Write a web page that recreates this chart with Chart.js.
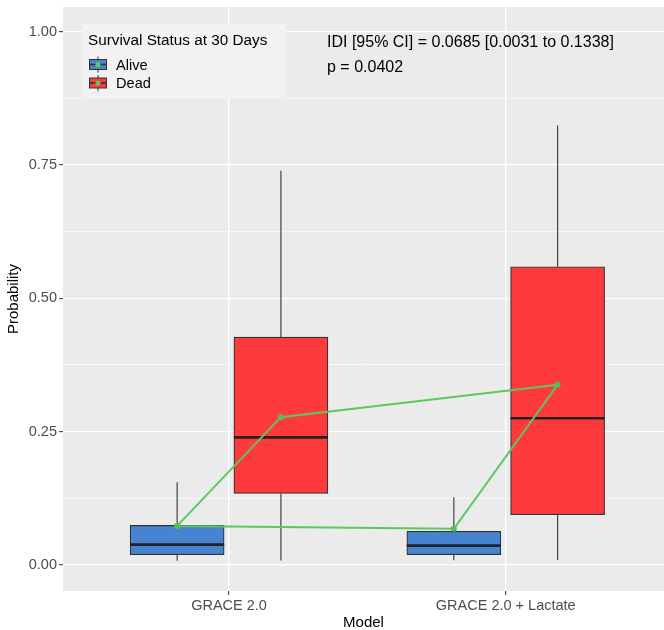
<!DOCTYPE html>
<html>
<head>
<meta charset="utf-8">
<script src="https://cdn.jsdelivr.net/npm/chart.js@4.4.1/dist/chart.umd.min.js"></script>
<style>
  html, body { margin: 0; padding: 0; background: #fff; }
  #wrap { width: 664px; height: 630px; }
</style>
</head>
<body>
<div id="wrap"><canvas id="chart" width="664" height="630"></canvas></div>
<script>
// categories
const models = ['GRACE 2.0', 'GRACE 2.0 + Lactate'];
const groups = ['Alive', 'Dead'];

// box statistics per model
const aliveMin    = [0.0075, 0.0088];
const aliveQ1     = [0.019, 0.019];
const aliveMedian = [0.038, 0.036];
const aliveQ3     = [0.074, 0.063];
const aliveMax    = [0.155, 0.127];
const aliveMean   = [0.073, 0.0675];

const deadMin    = [0.008, 0.009];
const deadQ1     = [0.134, 0.094];
const deadMedian = [0.239, 0.275];
const deadQ3     = [0.427, 0.559];
const deadMax    = [0.739, 0.824];
const deadMean   = [0.277, 0.3375];

// ticks
const yMajorTicks = [0, 0.25, 0.5, 0.75, 1];
const yMinorTicks = [0.125, 0.375, 0.625, 0.875];

const annotationLines = ['IDI [95% CI] = 0.0685 [0.0031 to 0.1338]', 'p = 0.0402'];
const legendTitle = 'Survival Status at 30 Days';

const colors = { Alive: '#4684D2', Dead: '#FF3A3C' };
const DODGE = 0.1875;
const BOX_HALF = 0.17;
const FONT = '"Liberation Sans", Arial, Helvetica, sans-serif';

const stats = {
    Alive: { min: aliveMin, q1: aliveQ1, med: aliveMedian, q3: aliveQ3, max: aliveMax, mean: aliveMean, dx: -DODGE },
    Dead:  { min: deadMin,  q1: deadQ1,  med: deadMedian,  q3: deadQ3,  max: deadMax,  mean: deadMean,  dx: DODGE }
};

// build datasets from the arrays
const boxSets = groups.map(g => ({
    type: 'bar',
    label: g,
    data: models.map((m, i) => ({ x: i + 1 + stats[g].dx, y: [stats[g].q1[i], stats[g].q3[i]] })),
    backgroundColor: colors[g],
    borderColor: '#333333',
    borderWidth: 1.2,
    borderSkipped: false,
    barThickness: 94,
    grouped: false,
    order: 3
}));

const whiskerPts = [];
const medianPts = [];
groups.forEach(g => {
    models.forEach((m, i) => {
        const c = i + 1 + stats[g].dx;
        whiskerPts.push({ x: c, y: stats[g].min[i] }, { x: c, y: stats[g].q1[i] }, { x: c, y: null });
        whiskerPts.push({ x: c, y: stats[g].q3[i] }, { x: c, y: stats[g].max[i] }, { x: c, y: null });
        medianPts.push({ x: c - BOX_HALF, y: stats[g].med[i] }, { x: c + BOX_HALF, y: stats[g].med[i] }, { x: c, y: null });
    });
});

// mean path: alive -> dead in model 1, dead model 1 -> dead model 2, back via alive
const meanPts = [
    { x: 1 - DODGE, y: aliveMean[0] },
    { x: 1 + DODGE, y: deadMean[0] },
    { x: 2 + DODGE, y: deadMean[1] },
    { x: 2 - DODGE, y: aliveMean[1] },
    { x: 1 - DODGE, y: aliveMean[0] }
];

const lineBase = { type: 'line', pointRadius: 0, spanGaps: false, fill: false, tension: 0 };

// panel background, legend box and annotation
const ggPanel = {
    id: 'ggPanel',
    beforeDraw(chart) {
        const { ctx, chartArea: a } = chart;
        ctx.save();
        ctx.fillStyle = '#EBEBEB';
        ctx.fillRect(a.left, a.top, a.right - a.left, a.bottom - a.top);
        ctx.restore();
    },
    afterDraw(chart) {
        const ctx = chart.ctx;
        ctx.save();
        // legend
        ctx.fillStyle = '#F2F2F2';
        ctx.fillRect(82, 24, 204, 75);
        ctx.fillStyle = '#000';
        ctx.textBaseline = 'alphabetic';
        ctx.font = '15.3px ' + FONT;
        ctx.fillText(legendTitle, 88, 45);
        const keyY = [64.5, 83];
        groups.forEach((g, i) => {
            const cy = keyY[i];
            const cx = 98;
            ctx.strokeStyle = '#333';
            ctx.lineWidth = 1;
            ctx.beginPath();
            ctx.moveTo(cx, cy - 8); ctx.lineTo(cx, cy + 8);
            ctx.stroke();
            ctx.fillStyle = colors[g];
            ctx.fillRect(89.5, cy - 5, 17, 10);
            ctx.strokeRect(89.5, cy - 5, 17, 10);
            ctx.lineWidth = 1.6;
            ctx.beginPath();
            ctx.moveTo(89.5, cy); ctx.lineTo(106.5, cy);
            ctx.stroke();
            ctx.fillStyle = '#5BC95B';
            ctx.beginPath();
            ctx.arc(cx, cy, 2.6, 0, Math.PI * 2);
            ctx.fill();
            ctx.fillStyle = '#000';
            ctx.font = '14.6px ' + FONT;
            ctx.textBaseline = 'middle';
            ctx.fillText(g, 116, cy + 1);
            ctx.textBaseline = 'alphabetic';
        });
        // annotation
        ctx.fillStyle = '#000';
        ctx.font = '16px ' + FONT;
        ctx.fillText(annotationLines[0], 327, 47);
        ctx.fillText(annotationLines[1], 327, 72);
        ctx.restore();
    }
};

const tickFont = { family: FONT, size: 14.5 };
const titleFont = { family: FONT, size: 15, lineHeight: 1 };
const isMajor = v => yMajorTicks.includes(v);

new Chart(document.getElementById('chart'), {
    type: 'bar',
    data: {
        datasets: [
            Object.assign({}, lineBase, { label: 'means', data: meanPts, borderColor: '#5BC95B', borderWidth: 2,
                pointRadius: 3, pointBackgroundColor: '#4FC24F', pointBorderWidth: 0, order: 1 }),
            Object.assign({}, lineBase, { label: 'medians', data: medianPts, borderColor: '#222222', borderWidth: 2.6, order: 2 }),
            ...boxSets,
            Object.assign({}, lineBase, { label: 'whiskers', data: whiskerPts, borderColor: '#444444', borderWidth: 1.2, order: 4 })
        ]
    },
    options: {
        responsive: false,
        animation: false,
        devicePixelRatio: 1,
        layout: { autoPadding: false, padding: { top: 7, left: 0, right: 0, bottom: 0 } },
        plugins: { legend: { display: false }, tooltip: { enabled: false } },
        scales: {
            x: {
                type: 'linear',
                min: 0.4,
                max: 2.572,
                offset: false,
                border: { display: false },
                grid: { offset: false, color: '#FFFFFF', lineWidth: 1.3, tickLength: 4, tickColor: '#333333', tickWidth: 1 },
                afterBuildTicks: s => { s.ticks = models.map((m, i) => ({ value: i + 1 })); },
                ticks: { autoSkip: false, maxRotation: 0, font: tickFont, color: '#4D4D4D', padding: 2,
                    callback: v => models[Math.round(v) - 1] },
                title: { display: true, text: 'Model', font: titleFont, color: '#000', padding: { top: 0, bottom: 0 } },
                afterFit: s => { s.height = 39; s.paddingLeft = 0; s.paddingRight = 0; }
            },
            y: {
                type: 'linear',
                min: -0.049,
                max: 1.046,
                border: { display: false },
                grid: {
                    color: '#FFFFFF',
                    lineWidth: c => isMajor(c.tick.value) ? 1.3 : 0.6,
                    tickLength: 4,
                    tickColor: c => isMajor(c.tick.value) ? '#333333' : 'rgba(0,0,0,0)',
                    tickWidth: 1
                },
                afterBuildTicks: s => {
                    s.ticks = yMajorTicks.concat(yMinorTicks).sort((a, b) => a - b).map(v => ({ value: v }));
                },
                ticks: { autoSkip: false, font: tickFont, color: '#4D4D4D', padding: 2,
                    callback: v => isMajor(v) ? v.toFixed(2) : '' },
                title: { display: true, text: 'Probability', font: titleFont, color: '#000', padding: { top: 6, bottom: 0 } },
                afterFit: s => { s.width = 63; s.paddingTop = 0; s.paddingBottom = 0; }
            }
        }
    },
    plugins: [ggPanel]
});
</script>
</body>
</html>
